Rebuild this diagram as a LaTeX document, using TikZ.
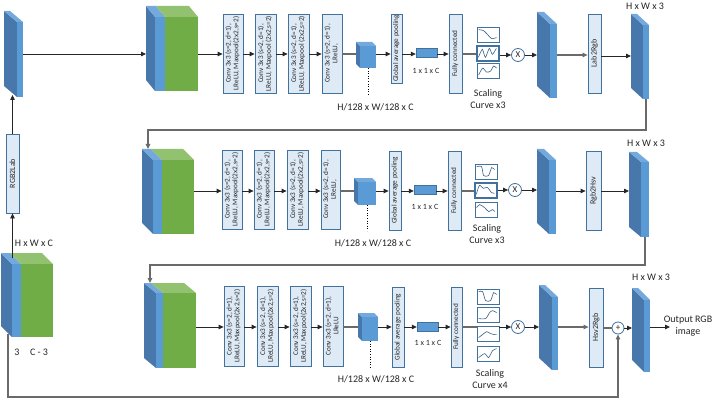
\documentclass[tikz,border=0pt]{standalone}
\usepackage{fontspec}
\setmainfont{Carlito}
\usetikzlibrary{arrows.meta,calc}
\definecolor{boxf}{HTML}{DEEBF7}
\definecolor{boxb}{HTML}{41719C}
\definecolor{sfront}{HTML}{5B9BD5}
\definecolor{sdark}{HTML}{4878AB}
\definecolor{stopc}{HTML}{74A9DD}
\definecolor{gfront}{HTML}{70AD47}
\definecolor{gtop}{HTML}{92C170}
\definecolor{lc}{HTML}{262626}
\definecolor{lg}{HTML}{6A6A6A}
\definecolor{txt}{HTML}{262626}
\newcommand\mybox[6]{%
  \node[lbox, minimum width={#4-#2}, minimum height={#5-#3}] (#1) at ({(#2+#4)/2},{(#3+#5)/2})
   {\rotatebox{90}{\begin{tabular}{@{}c@{}}#6\end{tabular}}};}
\newcommand\mynbox[6]{%
  \node[lbox, nbox, minimum width={#4-#2}, minimum height={#5-#3}] (#1) at ({(#2+#4)/2},{(#3+#5)/2})
   {\rotatebox{90}{#6}};}
\newcommand\myslab[7]{% name xl xr yt yb dx dy
  \fill[sdark] (#2,#4) -- ({#2-#6},{#4-#7}) -- ({#2-#6},{#5-#7}) -- (#2,#5) -- cycle;
  \fill[stopc] (#2,#4) -- ({#2-#6},{#4-#7}) -- ({#3-#6},{#4-#7}) -- (#3,#4) -- cycle;
  \node[sfr, minimum width={#3-#2}, minimum height={#5-#4}] (#1) at ({(#2+#3)/2},{(#4+#5)/2}) {};
  \coordinate (#1-l) at ({#2-#6},{#4});}
\newcommand\myblock[8]{% name xl xs xr yt yb dx dy
  \fill[sdark] (#2,#5) -- ({#2-#7},{#5-#8}) -- ({#2-#7},{#6-#8}) -- (#2,#6) -- cycle;
  \fill[stopc] (#2,#5) -- ({#2-#7},{#5-#8}) -- ({#3-#7},{#5-#8}) -- (#3,#5) -- cycle;
  \fill[gtop] (#3,#5) -- ({#3-#7},{#5-#8}) -- ({#4-#7},{#5-#8}) -- (#4,#5) -- cycle;
  \fill[sfront] (#2,#5) rectangle (#3,#6);
  \node[gfr, minimum width={#4-#3}, minimum height={#6-#5}] (#1) at ({(#3+#4)/2},{(#5+#6)/2}) {};
  \coordinate (#1-l) at ({#2-#7},{#5});
  \coordinate (#1-fb) at ({#2-#7+6},{#5-#8});}
\newcommand\mycube[6]{% name xl xr yt yb d
  \fill[sdark] (#2,#4) -- ({#2-#6},{#4-#6}) -- ({#2-#6},{#5-#6}) -- (#2,#5) -- cycle;
  \fill[stopc] (#2,#4) -- ({#2-#6},{#4-#6}) -- ({#3-#6},{#4-#6}) -- (#3,#4) -- cycle;
  \node[sfr, minimum width={#3-#2}, minimum height={#5-#4}] (#1) at ({(#2+#3)/2},{(#4+#5)/2}) {};
  \coordinate (#1-l) at ({#2-#6},{#4});}
\newcommand\mycbox[5]{% name cx cy style points
  \node[cbx,#4] (#1) at (#2,#3) {};
  \draw[cline, shift={(#1.north west)}] plot[smooth, tension=0.4] coordinates {#5};}
\begin{document}
\begin{tikzpicture}[x=1pt,y=-1pt, font=\fontsize{10}{12}\selectfont, text=txt,
  lbox/.style={draw=boxb, fill=boxf, line width=0.8pt, inner sep=0pt,
    font=\fontsize{7.2}{7.6}\selectfont},
  nbox/.style={font=\fontsize{8}{9}\selectfont},
  sfr/.style={fill=sfront, inner sep=0pt, outer sep=0pt},
  gfr/.style={fill=gfront, inner sep=0pt, outer sep=0pt},
  cbx/.style={draw=boxb, fill=white, line width=0.8pt, minimum width=22, minimum height=15, inner sep=0pt},
  cbold/.style={line width=1.3pt},
  cline/.style={draw=boxb!85!black, line width=0.6pt},
  circ/.style={circle, draw=boxb, fill=white, line width=0.8pt, minimum size=13, inner sep=0pt,
    font=\fontsize{9}{10}\selectfont},
  bar/.style={fill=sfront, draw=boxb, line width=0.4pt, inner sep=0pt},
  arr/.style={draw=lc, line width=0.8pt, -{Triangle[length=5pt,width=4.5pt]}},
  garr/.style={draw=lg, line width=1.1pt, -{Triangle[length=5pt,width=4.5pt]}},
  gl/.style={draw=lg, line width=1.1pt},
  small/.style={font=\fontsize{8}{9}\selectfont},
  two/.style={align=center, font=\fontsize{10}{12}\selectfont}]
\useasboundingbox (0,0) rectangle (712,401);
\fill[white] (0,0) rectangle (712,401);
\coordinate (r1) at (0,54);
\coordinate (r2) at (0,191);
\coordinate (r3) at (0,327);

% ---------- left part
\myslab{s0}{17}{23}{22}{97}{13}{11}
\myblock{in}{12}{21}{53}{264}{337}{11}{11}
\mynbox{rl}{6}{134}{19}{213}{RGB2Lab}
\coordinate (inT) at (12.5,258);
\coordinate (s0B) at (12.5,95);
\coordinate (inB) at (8,334);
\coordinate (bl) at (8,397);
\node (hwc) at (34,243) {H x W x C};
\node (n3) at (17,352) {3};
\node (nc3) at (39,352) {C - 3};
\draw[arr] (inT) -- (rl.south);
\draw[arr] (rl.north) -- (s0B);

% ---------- top row
\myblock{ab0}{155}{165}{198}{17}{91}{9}{11}
\mybox{a1}{223}{14}{243}{93}{Conv 3x3 (s=2, d=1),\\LReLU, Maxpool(2x2,s=2)}
\mybox{a2}{255}{14}{276}{93}{Conv 3x3 (s=2, d=1),\\LReLU, Maxpool (2x2,s=2)}
\mybox{a3}{288}{14}{309}{93}{Conv 3x3 (s=2, d=1),\\LReLU, Maxpool (2x2,s=2)}
\mybox{a4}{322}{14}{342}{93}{Conv 3x3 (s=2, d=1),\\LReLU,}
\mycube{acu}{360}{376}{46}{68}{4}
\mybox{ag}{391}{14}{402}{83}{Global average pooling}
\node[bar, minimum width=21, minimum height=9] (ab) at (426.5,52.5) {};
\mybox{af}{449}{14}{462}{93}{Fully connected}
\mycbox{ac1}{488}{34.5}{}{(2,3) (7,4) (11,8) (15,12) (20,11)}
\mycbox{ac2}{488}{53.5}{cbold}{(2,12) (6,4) (9,12) (13,3) (16,9) (20,3)}
\mycbox{ac3}{488}{71}{}{(2,12) (6,5) (10,9) (14,8) (17,3) (20,5)}
\node[circ] (ax) at (518,55) {X};
\myslab{as}{550}{557}{24}{98}{13}{12}
\mynbox{al}{588}{14}{601}{93}{Lab2Rgb}
\myslab{at}{643}{649}{25}{99}{12}{11}
\node (hw1) at (645,6) {H x W x 3};
\node (hl1) at (375.5,107) {H/128 x W/128 x C};
\node[small] (o1) at (426,71) {1 x 1 x C};
\node[two] (sc1) at (488,99.5) {Scaling\\Curve x3};

\draw[arr] (s0.east |- r1) -- (ab0-l |- r1);
\draw[arr] (ab0.east |- r1) -- (a1.west |- r1);
\draw[arr] (a1.east |- r1) -- (a2.west |- r1);
\draw[arr] (a2.east |- r1) -- (a3.west |- r1);
\draw[arr] (a3.east |- r1) -- (a4.west |- r1);
\draw[gl] (a4.east |- r1) -- (acu-l |- r1);
\draw[arr] (acu.east |- r1) -- (ag.west |- r1);
\draw[arr] (ag.east |- r1) -- (ab.west |- r1);
\draw[arr] (ab.east |- r1) -- (af.west |- r1);
\draw[gl] (af.east |- r1) -- (ac2.west |- r1);
\draw[arr] (ac2.east |- ax) -- (ax.west);
\draw[arr] (ax.east) -- (ax.east -| as-l);
\draw[garr] (as.east |- ax) -- (al.west |- ax);
\draw[arr] (al.east |- 0,56) -- (at-l |- 0,56);
\draw[dotted, line width=0.6pt] (acu.south) -- ++(0,27);

% ---------- middle row
\myblock{bb0}{153}{162}{194}{160}{234}{11}{11}
\mybox{b1}{222}{150}{242}{229}{Conv 3x3 (s=2, d=1),\\LReLU, Maxpool(2x2,s=2)}
\mybox{b2}{254}{150}{274}{229}{Conv 3x3 (s=2, d=1),\\LReLU, Maxpool(2x2,s=2)}
\mybox{b3}{287}{150}{308}{229}{Conv 3x3 (s=2, d=1),\\LReLU, Maxpool(2x2,s=2)}
\mybox{b4}{321}{150}{340}{229}{Conv 3x3 (s=2, d=1),\\LReLU,}
\mycube{bcu}{358}{376}{182}{205}{4}
\mybox{bg}{389}{151}{401}{230}{Global average pooling}
\node[bar, minimum width=22, minimum height=9] (bb) at (425,189.5) {};
\mybox{bf}{448}{151}{461}{230}{Fully connected}
\mycbox{bc1}{486}{171.5}{}{(2,3) (7,3) (9,12) (14,12) (17,4) (20,6)}
\mycbox{bc2}{486}{190.5}{cbold}{(2,12) (5,3) (9,6) (13,5) (17,10) (20,11)}
\mycbox{bc3}{486}{209.5}{}{(2,6) (5,3) (10,6) (14,10) (18,8) (20,10)}
\node[circ] (bx) at (515,190) {X};
\myslab{bs}{549}{556}{160}{234}{12}{11}
\mynbox{bh}{586}{151}{601}{230}{Rgb2Hsv}
\myslab{bt}{641}{649}{162}{237}{12}{10}
\node (hw2) at (646,143) {H x W x 3};
\node (hl2) at (373,243) {H/128 x W/128 x C};
\node[small] (o2) at (425,207) {1 x 1 x C};
\node[two] (sc2) at (487,234.5) {Scaling\\Curve x3};

\draw[arr] (bb0.east |- r2) -- (b1.west |- r2);
\draw[arr] (b1.east |- r2) -- (b2.west |- r2);
\draw[arr] (b2.east |- r2) -- (b3.west |- r2);
\draw[arr] (b3.east |- r2) -- (b4.west |- r2);
\draw[gl] (b4.east |- r2) -- (bcu-l |- r2);
\draw[arr] (bcu.east |- r2) -- (bg.west |- r2);
\draw[arr] (bg.east |- r2) -- (bb.west |- r2);
\draw[arr] (bb.east |- r2) -- (bf.west |- r2);
\draw[gl] (bf.east |- r2) -- (bc2.west |- r2);
\draw[arr] (bc2.east |- bx) -- (bx.west);
\draw[arr] (bx.east) -- (bx.east -| bs-l);
\draw[arr] (bs.east |- r2) -- (bh.west |- r2);
\draw[arr] (bh.east |- r2) -- (bt-l |- r2);
\draw[dotted, line width=0.6pt] (bcu.south) -- ++(0,26);

% ---------- bottom row
\myblock{cb0}{156}{163}{196}{293}{368}{12}{10}
\mybox{c1}{224}{286}{244}{366}{Conv 3x3 (s=2, d=1),\\LReLU, Maxpool(2x2,s=2)}
\mybox{c2}{257}{286}{278}{366}{Conv 3x3 (s=2, d=1),\\LReLU, Maxpool(2x2,s=2)}
\mybox{c3}{290}{286}{311}{366}{Conv 3x3 (s=2, d=1),\\LReLU, Maxpool(2x2,s=2)}
\mybox{c4}{323}{286}{343}{366}{Conv 3x3 (s=2, d=1),\\LReLU}
\mycube{ccu}{362}{378}{317}{341}{4}
\mybox{cg}{392}{287}{404}{367}{Global average pooling}
\node[bar, minimum width=21, minimum height=9] (cbar) at (427.5,326.5) {};
\mybox{cf}{451}{287}{462}{367}{Fully connected}
\mycbox{cc1}{488}{296.5}{}{(2,3) (6,3) (9,12) (14,12) (17,4) (20,6)}
\mycbox{cc2}{488}{314.5}{}{(2,12) (9,12) (13,6) (16,4) (20,6)}
\mycbox{cc3}{488}{333.5}{}{(2,12) (6,9) (10,6) (14,8) (18,9) (20,9)}
\mycbox{cc4}{488}{353.5}{}{(2,12) (8,8) (12,12) (16,5) (20,3)}
\node[circ] (cx) at (518,327) {X};
\myslab{cs}{552}{558}{297}{370}{13}{12}
\mynbox{ch}{589}{288}{603}{367}{Hsv2Rgb}
\node[circ, minimum size=12] (pl) at (618,328) {+};
\myslab{ct}{644}{650}{300}{372}{12}{12}
\node (hw3) at (651,277) {H x W x 3};
\node (hl3) at (376,379) {H/128 x W/128 x C};
\node[small] (o3) at (428,343) {1 x 1 x C};
\node[two] (sc3) at (490,379) {Scaling\\Curve x4};
\node[two] (out) at (688,326.5) {Output RGB\\image};
\coordinate (outT) at (670,327);

\draw[arr] (cb0.east |- r3) -- (c1.west |- r3);
\draw[arr] (c1.east |- r3) -- (c2.west |- r3);
\draw[arr] (c2.east |- r3) -- (c3.west |- r3);
\draw[arr] (c3.east |- r3) -- (c4.west |- r3);
\draw[gl] (c4.east |- r3) -- (ccu-l |- r3);
\draw[arr] (ccu.east |- r3) -- (cg.west |- r3);
\draw[arr] (cg.east |- r3) -- (cbar.west |- r3);
\draw[arr] (cbar.east |- r3) -- (cf.west |- r3);
\draw[gl] (cf.east |- r3) -- (cc3.west |- r3);
\draw[arr] (cc3.east |- cx) -- (cx.west);
\draw[arr] (cx.east) -- (cx.east -| cs-l);
\draw[garr] (cs.east |- r3) -- (ch.west |- r3);
\draw[gl] (ch.east |- pl) -- (pl.west);
\draw[arr] (pl.east) -- (pl.east -| ct-l);
\draw[arr] (ct.east |- outT) -- (outT);
\draw[dotted, line width=0.6pt] (ccu.south) -- ++(0,28);

% ---------- feedback connectors
\draw[garr] (at.south) -- ++(0,31) -| (bb0-fb);
\draw[garr] (bt.south) -- ++(0,28) -| (cb0-fb);
\draw[garr] (inB) -- (bl) -| (pl.south);
\end{tikzpicture}
\end{document}
